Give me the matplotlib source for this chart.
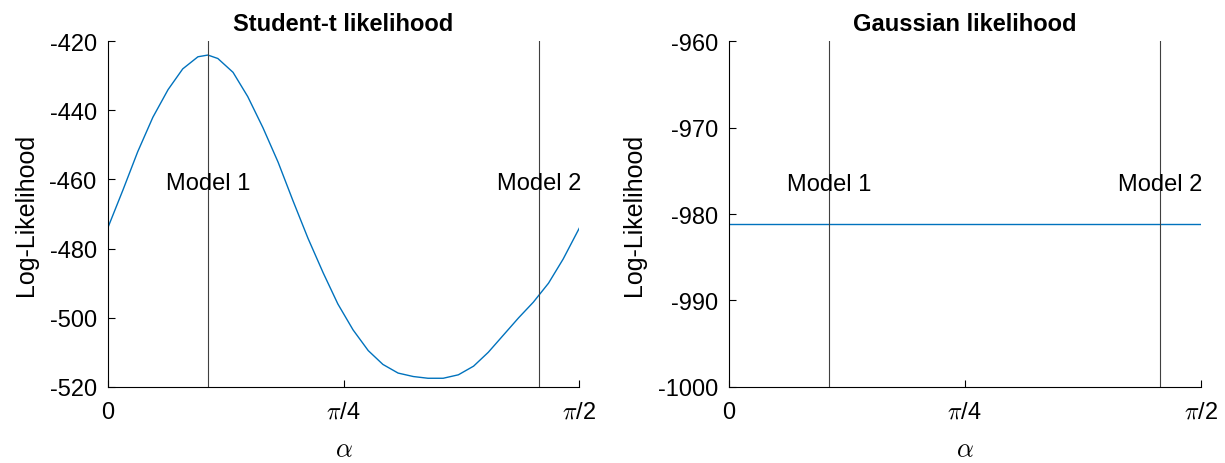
import numpy as np
import matplotlib
matplotlib.use('Agg')
import matplotlib.pyplot as plt

plt.rcParams['font.family'] = ['Liberation Sans', 'DejaVu Sans']
plt.rcParams['mathtext.fontset'] = 'cm'
plt.rcParams['axes.unicode_minus'] = False

# angle in degrees, log-likelihood
alpha_deg = [0, 2.9, 5.7, 8.6, 11.5, 14.3, 17.2, 19.1, 21.0, 23.9, 26.7, 29.6, 32.5,
             35.3, 38.2, 41.1, 43.9, 46.8, 49.7, 52.5, 55.4, 58.3, 61.1, 64.0, 66.9,
             69.8, 72.6, 75.5, 78.4, 81.2, 84.1, 86.9, 90]
ll_student = [-474, -463, -452, -442, -434, -428, -424.5, -424, -425, -429, -436,
              -445, -455, -466, -477, -487, -496, -503.5, -509.5, -513.5, -516,
              -517, -517.5, -517.5, -516.5, -514, -510, -505, -500, -495.5, -490,
              -483, -474]
ll_gauss = -981.2
model_alpha_deg = [19.1, 82.3]

a = np.deg2rad(alpha_deg)
m1, m2 = np.deg2rad(model_alpha_deg)

fig = plt.figure(figsize=(12.25, 4.64), dpi=100)
ax1 = fig.add_axes([0.088, 0.164, 0.385, 0.745])
ax2 = fig.add_axes([0.595, 0.164, 0.385, 0.745])
line_c = '#0072BD'

panels = [
    (ax1, 'Student-t likelihood', (-520, -420), np.arange(-520, -419, 20), -461),
    (ax2, 'Gaussian likelihood', (-1000, -960), np.arange(-1000, -959, 10), -976.5),
]
for ax, title, ylim, yt, ytext in panels:
    if ax is ax1:
        ax.plot(a, ll_student, color=line_c, lw=1)
    else:
        ax.plot([0, np.pi / 2], [ll_gauss, ll_gauss], color=line_c, lw=1)
    ax.axvline(m1, color='#404040', lw=0.8)
    ax.axvline(m2, color='#404040', lw=0.8)
    ax.text(m1, ytext, 'Model 1', ha='center', va='center', fontsize=17)
    ax.text(m2, ytext, 'Model 2', ha='center', va='center', fontsize=17)
    ax.set_xlim(0, np.pi / 2)
    ax.set_ylim(*ylim)
    ax.set_yticks(yt)
    ax.set_xticks([0, np.pi / 4, np.pi / 2])
    ax.set_xticklabels(['0', r'$\pi$/4', r'$\pi$/2'])
    ax.tick_params(direction='in', labelsize=17, length=5, pad=8)
    ax.tick_params(axis='x', pad=10)
    ax.set_title(title, fontsize=17, fontweight='bold', pad=8)
    ax.set_ylabel('Log-Likelihood', fontsize=18, labelpad=8)
    ax.set_xlabel(r'$\alpha$', fontsize=19, labelpad=10)
    for s in ['top', 'right']:
        ax.spines[s].set_visible(False)

fig.savefig('out.png', dpi=100)
